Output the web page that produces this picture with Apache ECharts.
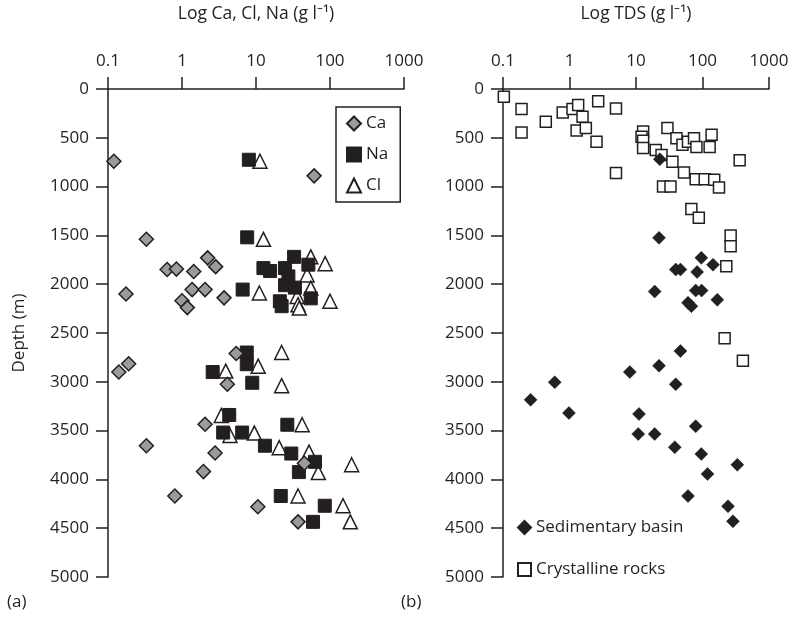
<!DOCTYPE html>
<html>
<head>
<meta charset="utf-8">
<script src="https://cdn.jsdelivr.net/npm/echarts@6/dist/echarts.min.js"></script>
<style>
  html, body { margin: 0; padding: 0; background: #fff; }
  #main { width: 792px; height: 620px; }
</style>
</head>
<body>
<div id="main"></div>
<script>
// panel (a): concentration (g/l) vs depth (m)
var caConc  = [0.12, 61, 0.33, 0.63, 0.84, 1.44, 2.22, 2.85, 0.175, 1.37, 2.05, 3.7, 1.0, 1.18, 5.4, 0.19, 0.14, 4.1, 2.05, 0.33, 2.8, 1.95, 45, 0.8, 10.6, 37];
var caDepth = [740, 890, 1540, 1850, 1845, 1870, 1730, 1820, 2100, 2055, 2055, 2140, 2170, 2240, 2710, 2815, 2900, 3025, 3435, 3655, 3730, 3920, 3835, 4170, 4280, 4435];

var naConc  = [8.0, 7.6, 32.7, 12.6, 15.5, 24.7, 51, 27.4, 24.7, 33.6, 6.6, 55, 21, 22.2, 7.5, 7.5, 2.6, 8.9, 4.35, 3.6, 6.5, 26.5, 13.2, 30, 62.7, 38, 21.6, 85, 59];
var naDepth = [725, 1520, 1720, 1835, 1865, 1835, 1800, 1920, 2010, 2035, 2055, 2145, 2175, 2225, 2700, 2820, 2900, 3010, 3340, 3520, 3520, 3440, 3655, 3735, 3820, 3925, 4170, 4270, 4435];

var clConc  = [11.3, 12.6, 55, 86, 49, 55, 11.1, 100, 36, 37, 38.5, 22.2, 3.9, 10.7, 22.2, 3.4, 4.45, 9.5, 42, 20.6, 52, 69.5, 196, 37, 150, 188];
var clDepth = [740, 1540, 1720, 1790, 1905, 2040, 2090, 2175, 2125, 2210, 2245, 2700, 2890, 2840, 3040, 3345, 3550, 3525, 3440, 3675, 3720, 3930, 3850, 4170, 4270, 4435];

// panel (b): TDS (g/l) vs depth (m)
var sedTds   = [22.8, 22.2, 39.6, 46.6, 96, 144, 83, 19.1, 79, 97, 60.5, 68, 167, 46.6, 22.2, 8.07, 39.6, 0.60, 0.26, 0.98, 11.1, 10.8, 19.1, 79, 38.3, 96, 119, 334, 60.5, 242, 287];
var sedDepth = [720, 1525, 1850, 1850, 1730, 1800, 1875, 2075, 2065, 2065, 2190, 2225, 2160, 2685, 2835, 2900, 3025, 3005, 3185, 3320, 3330, 3535, 3535, 3455, 3670, 3740, 3945, 3850, 4170, 4275, 4430];

var cryTds   = [0.103, 0.19, 0.19, 0.44, 0.79, 1.11, 1.35, 1.57, 1.28, 1.76, 2.55, 2.7, 5.0, 5.0, 12.8, 12.1, 12.8, 12.8, 19.8, 24.2, 29.7, 40.6, 50, 60.5, 74.5, 81, 137, 128, 35.3, 52.7, 79, 108, 150, 177, 25.5, 33, 362, 68, 88, 265, 265, 228, 215, 405];
var cryDepth = [80, 205, 445, 335, 240, 205, 165, 285, 425, 400, 540, 125, 200, 860, 435, 490, 530, 605, 625, 675, 400, 505, 570, 540, 505, 595, 470, 595, 745, 855, 925, 925, 930, 1010, 1000, 1000, 730, 1230, 1320, 1500, 1610, 1815, 2555, 2785];

var xTitles = ['Log Ca, Cl, Na (g l\u207B\u00B9)', 'Log TDS (g l\u207B\u00B9)'];
var panelTags = ['(a)', '(b)'];

function pairs(xs, ys) {
  return xs.map(function (x, i) { return [x, ys[i]]; });
}

var ink = '#231f20';
var font = 'Open Sans';
var fs = 17;

function xAxisFor(idx, title) {
  return {
    gridIndex: idx, type: 'log', logBase: 10, min: 0.1, max: 1000,
    position: 'top',
    name: title, nameLocation: 'middle', nameGap: 66,
    nameTextStyle: { fontSize: 17.5, color: ink, fontFamily: font },
    axisLine: { lineStyle: { color: ink, width: 1.5 } },
    axisTick: { length: 12, lineStyle: { color: ink, width: 1.5 } },
    minorTick: { show: false },
    splitLine: { show: false },
    axisLabel: {
      margin: 19, fontSize: fs, color: ink, fontFamily: font,
      formatter: function (v) { return v < 1 ? v.toFixed(1) : String(Math.round(v)); }
    }
  };
}

function yAxisFor(idx, withName) {
  return {
    gridIndex: idx, type: 'value', inverse: true, min: 0, max: 5000, interval: 500,
    name: withName ? 'Depth (m)' : '', nameLocation: 'middle', nameGap: 80,
    nameTextStyle: { fontSize: fs, color: ink, fontFamily: font },
    axisLine: { show: true, onZero: false, lineStyle: { color: ink, width: 1.5 } },
    axisTick: { show: true, length: 12, lineStyle: { color: ink, width: 1.5 } },
    splitLine: { show: false },
    axisLabel: {
      margin: 19, fontSize: fs, color: ink, fontFamily: font,
      formatter: function (v) { return String(v); }
    }
  };
}

var chart = echarts.init(document.getElementById('main'));
chart.setOption({
  animation: false,
  backgroundColor: '#fff',
  grid: [
    { left: 108, top: 87, width: 296, height: 490 },
    { left: 503, top: 87, width: 266, height: 490 }
  ],
  xAxis: [xAxisFor(0, xTitles[0]), xAxisFor(1, xTitles[1])],
  yAxis: [yAxisFor(0, true), yAxisFor(1, false)],
  legend: [
    {
      data: ['Ca', 'Na', 'Cl'],
      orient: 'vertical', left: 336, top: 107,
      borderColor: ink, borderWidth: 1.5,
      padding: [8, 12, 8, 10],
      itemGap: 14, itemWidth: 14, itemHeight: 14,
      textStyle: { fontSize: fs, color: ink, fontFamily: font }
    },
    {
      data: ['Sedimentary basin', 'Crystalline rocks'],
      orient: 'vertical', left: 512, top: 514,
      itemGap: 25, itemWidth: 13, itemHeight: 13,
      textStyle: { fontSize: fs, color: ink, fontFamily: font }
    }
  ],
  graphic: [
    { type: 'text', left: 7, top: 594, style: { text: panelTags[0], fontSize: fs, fill: ink, fontFamily: font } },
    { type: 'text', left: 401, top: 594, style: { text: panelTags[1], fontSize: fs, fill: ink, fontFamily: font } }
  ],
  series: [
    {
      name: 'Cl', type: 'scatter', xAxisIndex: 0, yAxisIndex: 0,
      symbol: 'triangle', symbolSize: 14,
      itemStyle: { color: '#fff', borderColor: ink, borderWidth: 1.5, opacity: 1 },
      data: pairs(clConc, clDepth)
    },
    {
      name: 'Na', type: 'scatter', xAxisIndex: 0, yAxisIndex: 0,
      symbol: 'rect', symbolSize: 13,
      itemStyle: { color: ink, borderColor: ink, borderWidth: 1, opacity: 1 },
      data: pairs(naConc, naDepth)
    },
    {
      name: 'Ca', type: 'scatter', xAxisIndex: 0, yAxisIndex: 0,
      symbol: 'diamond', symbolSize: 14,
      itemStyle: { color: '#9b9b9b', borderColor: ink, borderWidth: 1.5, opacity: 1 },
      data: pairs(caConc, caDepth)
    },
    {
      name: 'Crystalline rocks', type: 'scatter', xAxisIndex: 1, yAxisIndex: 1,
      symbol: 'rect', symbolSize: 11,
      itemStyle: { color: '#fff', borderColor: ink, borderWidth: 1.5, opacity: 1 },
      data: pairs(cryTds, cryDepth)
    },
    {
      name: 'Sedimentary basin', type: 'scatter', xAxisIndex: 1, yAxisIndex: 1,
      symbol: 'diamond', symbolSize: 13,
      itemStyle: { color: ink, borderColor: ink, borderWidth: 0.5, opacity: 1 },
      data: pairs(sedTds, sedDepth)
    }
  ]
});
</script>
</body>
</html>
